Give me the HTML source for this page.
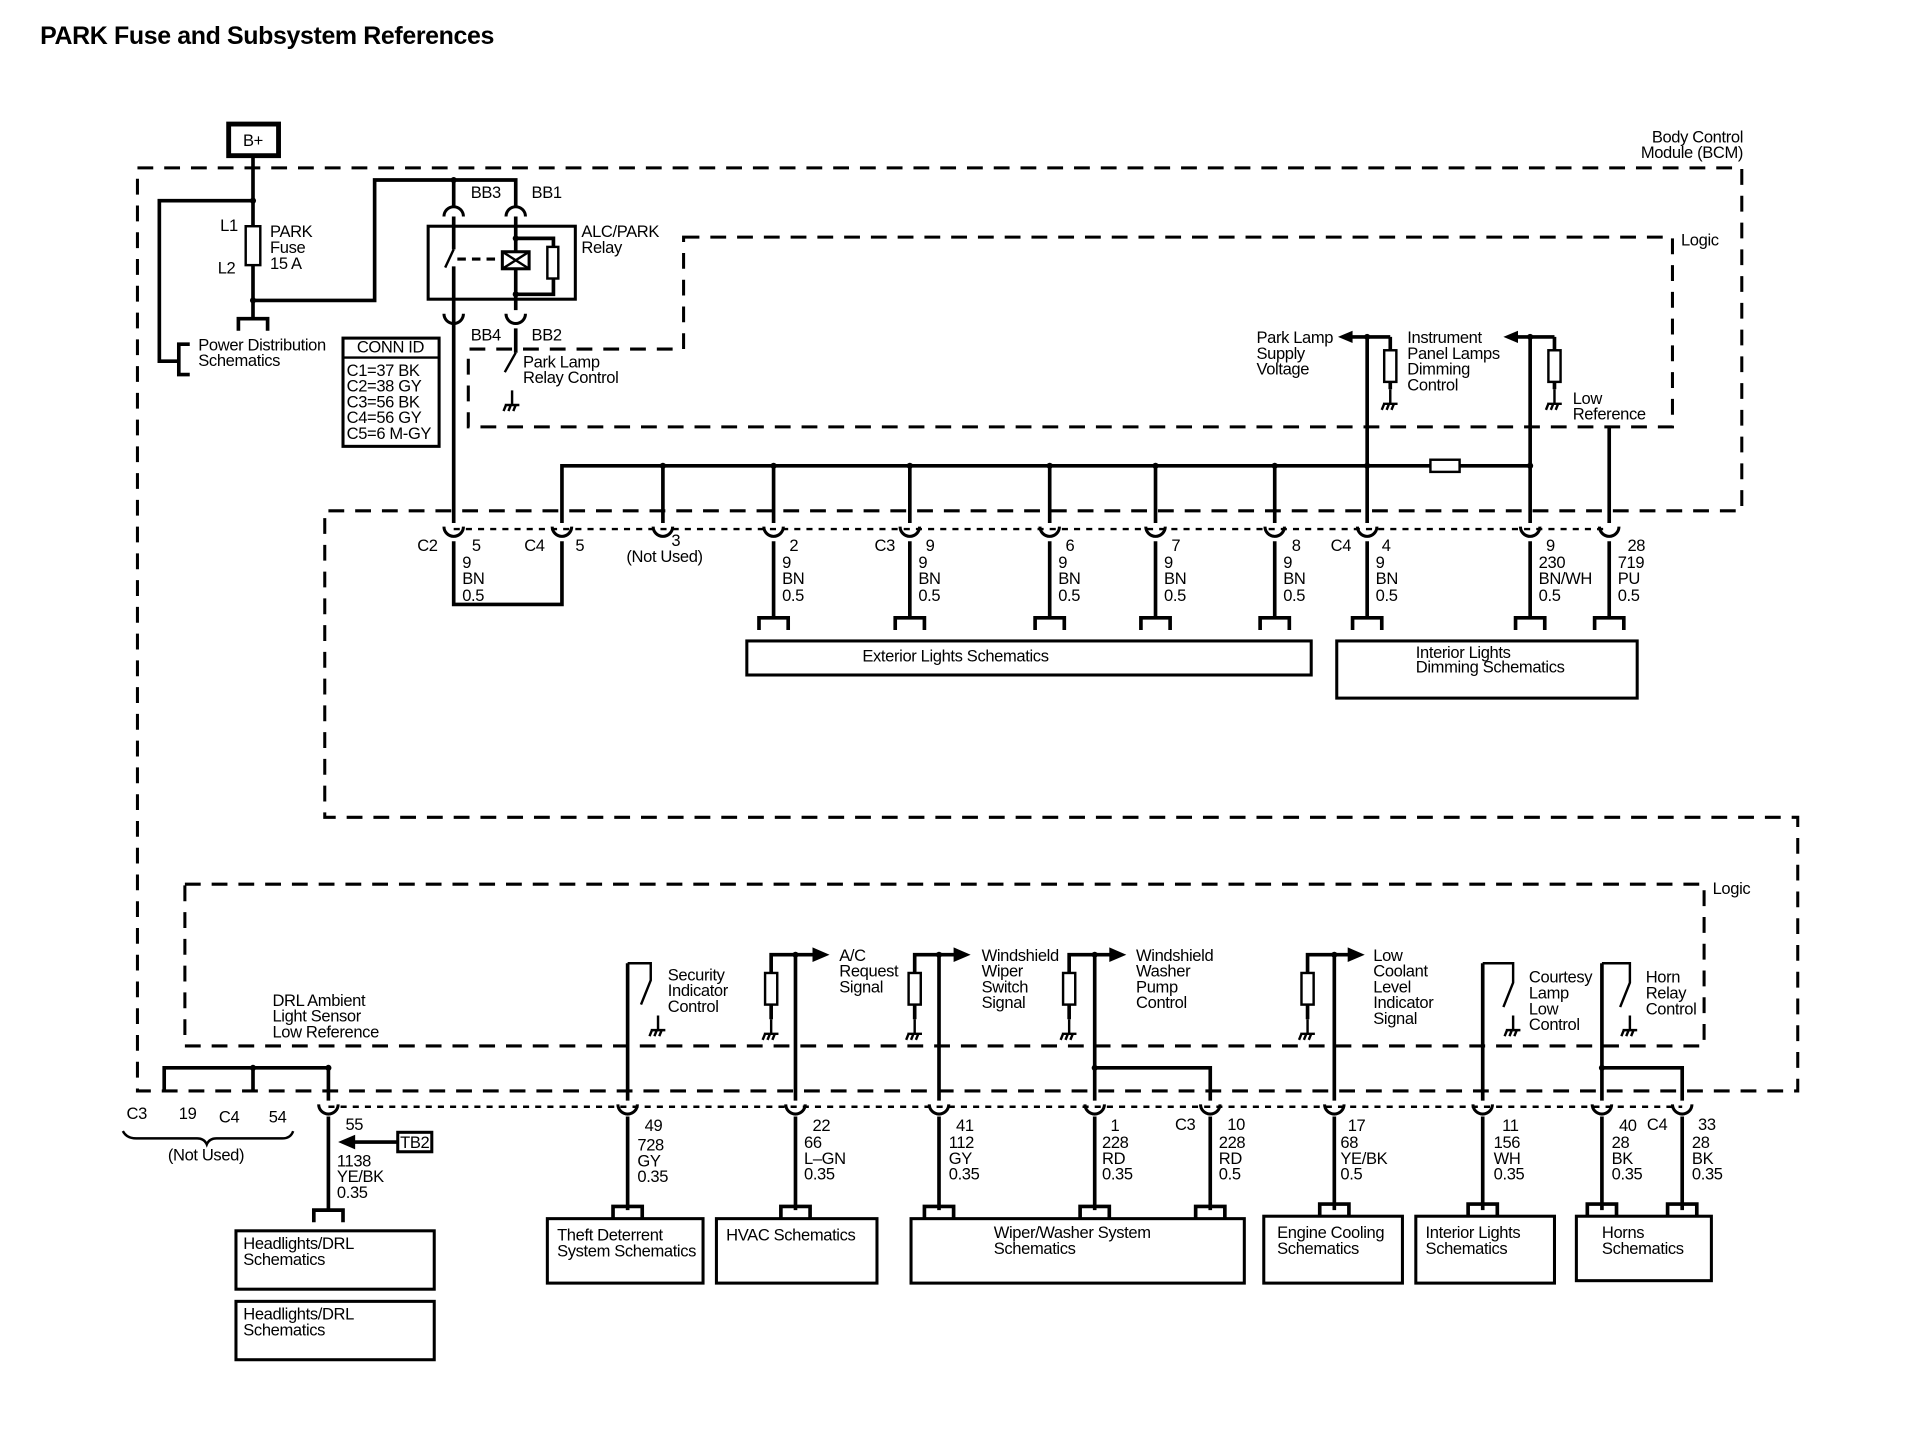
<!DOCTYPE html>
<html><head><meta charset="utf-8"><style>
html,body{margin:0;padding:0;background:#fff;}
svg{display:block;}
text{font-family:"Liberation Sans",sans-serif;font-size:13.6px;fill:#000;letter-spacing:-0.3px;}
</style></head><body>
<svg width="1906" height="1440" viewBox="0 0 1567 1184" preserveAspectRatio="none" xmlns="http://www.w3.org/2000/svg">
<defs>
<g id="cu"><path d="M-8,-4 A8,8 0 0 0 8,-4" fill="none" stroke="#000" stroke-width="2.5"/></g>
<g id="cd"><path d="M-8,4 A8,8 0 0 1 8,4" fill="none" stroke="#000" stroke-width="2.5"/></g>
<g id="pin"><path d="M-12,10 V0 H12 V10" fill="none" stroke="#000" stroke-width="3"/></g>
<g id="gnd"><path d="M0,0 V12 M-6,12 H6 M-5,12 L-7,17 M-1,12 L-3,17 M3,12 L1,17" fill="none" stroke="#000" stroke-width="2"/></g>
<g id="res"><rect x="-5" y="0" width="10" height="26" fill="#fff" stroke="#000" stroke-width="2"/></g>
</defs>
<text x="33" y="36" style="font-size:20.5px;font-weight:bold;letter-spacing:-0.3px">PARK Fuse and Subsystem References</text>

<g fill="none" stroke="#000" stroke-width="2.5" stroke-dasharray="13,9">
<path d="M113,138 H1432 V420 H267 V672 H1478 V897 H113 Z"/>
<path d="M562,195 H1375 V351 H385 V287 H562 Z"/>
<rect x="152" y="727" width="1249" height="133"/>
</g>
<g fill="none" stroke="#000" stroke-width="2" stroke-dasharray="5,5">
<path d="M373,435 H1323"/>
<path d="M270,910 H1383"/>
</g>
<text x="1433" y="117" text-anchor="end">Body Control</text>
<text x="1433" y="130" text-anchor="end">Module (BCM)</text>
<text x="1382" y="202">Logic</text>
<text x="1408" y="735">Logic</text>

<rect x="188" y="102" width="41" height="26" fill="#fff" stroke="#000" stroke-width="4"/>
<text x="208" y="120" text-anchor="middle">B+</text>

<g fill="none" stroke="#000" stroke-width="3">
<path d="M208,128 V262"/>
<path d="M208,165 H131 V297 H147"/>
<path d="M156,283 H147 V308 H156"/>
<path d="M208,247 H308 V148 H424 V170"/>
<path d="M373,148 V170"/>
<path d="M196,272 V262 H220 V272"/>
<path d="M373,178 V205 M373,219 V430 M373,445 V497 H462 V445 M462,430 V383 H1258"/>
<path d="M424,178 V255 M424,270 V290"/>
<path d="M424,196 H455 V242 H424"/>
</g>
<rect x="202" y="186" width="12" height="32" fill="#fff" stroke="#000" stroke-width="2"/>
<text x="181" y="190">L1</text><text x="179" y="225">L2</text>
<text x="222" y="195">PARK</text><text x="222" y="208">Fuse</text><text x="222" y="221">15 A</text>
<text x="163" y="288">Power Distribution</text><text x="163" y="301">Schematics</text>

<rect x="352" y="186" width="121" height="60" fill="none" stroke="#000" stroke-width="2.5"/>
<path d="M373,205 L366,220" stroke="#000" stroke-width="2"/>
<path d="M376,213 H410" stroke="#000" stroke-width="2.5" stroke-dasharray="7,5"/>
<rect x="413" y="207" width="22" height="14" fill="#fff" stroke="#000" stroke-width="2.5"/>
<path d="M413,207 L435,221 M435,207 L413,221" stroke="#000" stroke-width="2"/>
<rect x="450" y="203" width="9" height="26" fill="#fff" stroke="#000" stroke-width="2"/>
<circle cx="373" cy="148" r="2.5"/><circle cx="208" cy="165" r="2.5"/><circle cx="208" cy="247" r="2.5"/>
<circle cx="424" cy="196" r="2.5"/><circle cx="424" cy="242" r="2.5"/>
<use href="#cd" x="373" y="174"/><use href="#cd" x="424" y="174"/>
<use href="#cu" x="373" y="262"/><use href="#cu" x="424" y="262"/>
<text x="387" y="163">BB3</text><text x="437" y="163">BB1</text>
<text x="387" y="280">BB4</text><text x="437" y="280">BB2</text>
<text x="478" y="195">ALC/PARK</text><text x="478" y="208">Relay</text>
<path d="M424,290 L415,306" stroke="#000" stroke-width="2" fill="none"/>
<use href="#gnd" x="421" y="321"/>
<text x="430" y="302">Park Lamp</text><text x="430" y="315">Relay Control</text>

<rect x="282" y="278" width="79" height="89" fill="none" stroke="#000" stroke-width="2.5"/>
<line x1="282" y1="294" x2="361" y2="294" stroke="#000" stroke-width="2"/>
<text x="321" y="290" text-anchor="middle">CONN ID</text>
<text x="285" y="309">C1=37 BK</text><text x="285" y="322">C2=38 GY</text><text x="285" y="335">C3=56 BK</text><text x="285" y="348">C4=56 GY</text><text x="285" y="361">C5=6 M-GY</text>

<g fill="none" stroke="#000" stroke-width="3">
<path d="M545,383 V430 M636,383 V430 M748,383 V430 M863,383 V430 M950,383 V430 M1048,383 V430"/>
<path d="M636,445 V508 M748,445 V508 M863,445 V508 M950,445 V508 M1048,445 V508"/>
<path d="M1124,275 V430 M1124,445 V508 M1258,275 V430 M1258,445 V508 M1323,351 V430 M1323,445 V508"/>
<path d="M1124,277 H1110 M1258,277 H1245 M1124,277 H1143 M1258,277 H1278"/>
<path d="M1143,277 V288 M1143,312 V320 M1278,277 V288 M1278,312 V320"/>
</g>
<path d="M1100,277 L1112,272 L1112,282 Z"/><path d="M1236,277 L1248,272 L1248,282 Z"/>
<use href="#res" x="1143" y="288"/><use href="#res" x="1278" y="288"/>
<use href="#gnd" x="1143" y="320"/><use href="#gnd" x="1278" y="320"/>
<rect x="1176" y="378" width="24" height="10" fill="#fff" stroke="#000" stroke-width="2"/>
<g><circle cx="545" cy="383" r="2.5"/><circle cx="636" cy="383" r="2.5"/><circle cx="748" cy="383" r="2.5"/><circle cx="863" cy="383" r="2.5"/><circle cx="950" cy="383" r="2.5"/><circle cx="1048" cy="383" r="2.5"/><circle cx="1124" cy="383" r="2.5"/><circle cx="1258" cy="383" r="2.5"/><circle cx="1124" cy="277" r="2.5"/><circle cx="1258" cy="277" r="2.5"/></g>
<text x="1033" y="282">Park Lamp</text><text x="1033" y="295">Supply</text><text x="1033" y="308">Voltage</text>
<text x="1157" y="282">Instrument</text><text x="1157" y="295">Panel Lamps</text><text x="1157" y="308">Dimming</text><text x="1157" y="321">Control</text>
<text x="1293" y="332">Low</text><text x="1293" y="345">Reference</text>
<g><use href="#cu" x="373" y="437"/><use href="#cu" x="462" y="437"/><use href="#cu" x="545" y="437"/><use href="#cu" x="636" y="437"/><use href="#cu" x="748" y="437"/><use href="#cu" x="863" y="437"/><use href="#cu" x="950" y="437"/><use href="#cu" x="1048" y="437"/><use href="#cu" x="1124" y="437"/><use href="#cu" x="1258" y="437"/><use href="#cu" x="1323" y="437"/></g>
<text x="343" y="453">C2</text><text x="388" y="453">5</text><text x="380" y="467">9</text><text x="380" y="480">BN</text><text x="380" y="494">0.5</text>
<text x="431" y="453">C4</text><text x="473" y="453">5</text>
<text x="552" y="449">3</text><text x="515" y="462">(Not Used)</text>
<text x="649" y="453">2</text><text x="643" y="467">9</text><text x="643" y="480">BN</text><text x="643" y="494">0.5</text>
<text x="719" y="453">C3</text><text x="761" y="453">9</text><text x="755" y="467">9</text><text x="755" y="480">BN</text><text x="755" y="494">0.5</text>
<text x="876" y="453">6</text><text x="870" y="467">9</text><text x="870" y="480">BN</text><text x="870" y="494">0.5</text>
<text x="963" y="453">7</text><text x="957" y="467">9</text><text x="957" y="480">BN</text><text x="957" y="494">0.5</text>
<text x="1062" y="453">8</text><text x="1055" y="467">9</text><text x="1055" y="480">BN</text><text x="1055" y="494">0.5</text>
<text x="1094" y="453">C4</text><text x="1136" y="453">4</text><text x="1131" y="467">9</text><text x="1131" y="480">BN</text><text x="1131" y="494">0.5</text>
<text x="1271" y="453">9</text><text x="1265" y="467">230</text><text x="1265" y="480">BN/WH</text><text x="1265" y="494">0.5</text>
<text x="1338" y="453">28</text><text x="1330" y="467">719</text><text x="1330" y="480">PU</text><text x="1330" y="494">0.5</text>
<g><use href="#pin" x="636" y="508"/><use href="#pin" x="748" y="508"/><use href="#pin" x="863" y="508"/><use href="#pin" x="950" y="508"/><use href="#pin" x="1048" y="508"/><use href="#pin" x="1124" y="508"/><use href="#pin" x="1258" y="508"/><use href="#pin" x="1323" y="508"/></g>
<rect x="614" y="527" width="464" height="28" fill="none" stroke="#000" stroke-width="2.5"/>
<text x="709" y="544">Exterior Lights Schematics</text>
<rect x="1099" y="527" width="247" height="47" fill="none" stroke="#000" stroke-width="2.5"/>
<text x="1164" y="541">Interior Lights</text><text x="1164" y="553">Dimming Schematics</text>

<g fill="none" stroke="#000" stroke-width="3">
<path d="M135,897 V878 H270 V905 M208,878 V897 M270,918 V995"/>
<path d="M516,792 V905 M516,918 V995"/>
<path d="M634,800 V785 H654 M634,824 V838 M654,785 V905 M654,918 V995 M654,785 H670"/>
<path d="M752,800 V785 H772 M752,824 V838 M772,785 V905 M772,918 V995 M772,785 H786"/>
<path d="M879,800 V785 H900 M879,824 V838 M900,785 V905 M900,918 V995 M900,785 H914 M900,878 H995 V905 M995,918 V995"/>
<path d="M1075,800 V785 H1097 M1075,824 V838 M1097,785 V905 M1097,918 V995 M1097,785 H1110"/>
<path d="M1219,792 V905 M1219,918 V995"/>
<path d="M1317,792 V905 M1317,918 V995 M1317,878 H1383 V905 M1383,918 V995"/>
<path d="M285,939 H327"/>
</g>
<g fill="none" stroke="#000" stroke-width="2">
<path d="M516,792 H535 V806 L527,826"/><use href="#gnd" x="541" y="835"/>
<path d="M1219,792 H1244 V808 L1236,828"/><use href="#gnd" x="1244" y="835"/>
<path d="M1317,792 H1340 V808 L1332,828"/><use href="#gnd" x="1340" y="835"/>
<path d="M101,930 Q104,936 112,936 H162 Q168,936 170,941 Q172,936 178,936 H232 Q239,936 241,930"/>
</g>
<use href="#res" x="634" y="800"/><use href="#res" x="752" y="800"/><use href="#res" x="879" y="800"/><use href="#res" x="1075" y="800"/>
<use href="#gnd" x="634" y="838"/><use href="#gnd" x="752" y="838"/><use href="#gnd" x="879" y="838"/><use href="#gnd" x="1075" y="838"/>
<path d="M682,785 L668,779 L668,791 Z"/><path d="M798,785 L784,779 L784,791 Z"/><path d="M926,785 L912,779 L912,791 Z"/><path d="M1122,785 L1108,779 L1108,791 Z"/>
<path d="M278,939 L292,933 L292,945 Z"/>
<g><circle cx="208" cy="878" r="2.5"/><circle cx="270" cy="878" r="2.5"/><circle cx="654" cy="785" r="2.5"/><circle cx="772" cy="785" r="2.5"/><circle cx="900" cy="785" r="2.5"/><circle cx="1097" cy="785" r="2.5"/><circle cx="900" cy="878" r="2.5"/><circle cx="1317" cy="878" r="2.5"/></g>
<g><use href="#cu" x="270" y="912"/><use href="#cu" x="516" y="912"/><use href="#cu" x="654" y="912"/><use href="#cu" x="772" y="912"/><use href="#cu" x="900" y="912"/><use href="#cu" x="995" y="912"/><use href="#cu" x="1097" y="912"/><use href="#cu" x="1219" y="912"/><use href="#cu" x="1317" y="912"/><use href="#cu" x="1383" y="912"/></g>
<rect x="327" y="931" width="28" height="16" fill="#fff" stroke="#000" stroke-width="2.5"/>
<text x="341" y="944" text-anchor="middle">TB2</text>

<text x="224" y="827">DRL Ambient</text><text x="224" y="840">Light Sensor</text><text x="224" y="853">Low Reference</text>
<text x="549" y="806">Security</text><text x="549" y="819">Indicator</text><text x="549" y="832">Control</text>
<text x="690" y="790">A/C</text><text x="690" y="803">Request</text><text x="690" y="816">Signal</text>
<text x="807" y="790">Windshield</text><text x="807" y="803">Wiper</text><text x="807" y="816">Switch</text><text x="807" y="829">Signal</text>
<text x="934" y="790">Windshield</text><text x="934" y="803">Washer</text><text x="934" y="816">Pump</text><text x="934" y="829">Control</text>
<text x="1129" y="790">Low</text><text x="1129" y="803">Coolant</text><text x="1129" y="816">Level</text><text x="1129" y="829">Indicator</text><text x="1129" y="842">Signal</text>
<text x="1257" y="808">Courtesy</text><text x="1257" y="821">Lamp</text><text x="1257" y="834">Low</text><text x="1257" y="847">Control</text>
<text x="1353" y="808">Horn</text><text x="1353" y="821">Relay</text><text x="1353" y="834">Control</text>

<text x="104" y="920">C3</text><text x="147" y="920">19</text><text x="180" y="923">C4</text><text x="221" y="923">54</text>
<text x="138" y="954">(Not Used)</text>
<text x="284" y="929">55</text><text x="277" y="959">1138</text><text x="277" y="972">YE/BK</text><text x="277" y="985">0.35</text>
<text x="530" y="930">49</text><text x="524" y="946">728</text><text x="524" y="959">GY</text><text x="524" y="972">0.35</text>
<text x="668" y="930">22</text><text x="661" y="944">66</text><text x="661" y="957">L–GN</text><text x="661" y="970">0.35</text>
<text x="786" y="930">41</text><text x="780" y="944">112</text><text x="780" y="957">GY</text><text x="780" y="970">0.35</text>
<text x="913" y="930">1</text><text x="906" y="944">228</text><text x="906" y="957">RD</text><text x="906" y="970">0.35</text>
<text x="966" y="929">C3</text><text x="1009" y="929">10</text><text x="1002" y="944">228</text><text x="1002" y="957">RD</text><text x="1002" y="970">0.5</text>
<text x="1108" y="930">17</text><text x="1102" y="944">68</text><text x="1102" y="957">YE/BK</text><text x="1102" y="970">0.5</text>
<text x="1235" y="930">11</text><text x="1228" y="944">156</text><text x="1228" y="957">WH</text><text x="1228" y="970">0.35</text>
<text x="1331" y="930">40</text><text x="1325" y="944">28</text><text x="1325" y="957">BK</text><text x="1325" y="970">0.35</text>
<text x="1354" y="929">C4</text><text x="1396" y="929">33</text><text x="1391" y="944">28</text><text x="1391" y="957">BK</text><text x="1391" y="970">0.35</text>

<g><use href="#pin" x="270" y="995"/><use href="#pin" x="516" y="992"/><use href="#pin" x="654" y="992"/><use href="#pin" x="772" y="992"/><use href="#pin" x="900" y="992"/><use href="#pin" x="995" y="992"/><use href="#pin" x="1097" y="990"/><use href="#pin" x="1219" y="990"/><use href="#pin" x="1317" y="990"/><use href="#pin" x="1383" y="990"/></g>
<g fill="none" stroke="#000" stroke-width="2.5">
<rect x="194" y="1012" width="163" height="48"/><rect x="194" y="1070" width="163" height="48"/>
<rect x="450" y="1002" width="128" height="53"/><rect x="589" y="1002" width="132" height="53"/>
<rect x="749" y="1002" width="274" height="53"/><rect x="1039" y="1000" width="114" height="55"/>
<rect x="1164" y="1000" width="114" height="55"/><rect x="1296" y="1000" width="111" height="53"/>
</g>
<text x="200" y="1027">Headlights/DRL</text><text x="200" y="1040">Schematics</text>
<text x="200" y="1085">Headlights/DRL</text><text x="200" y="1098">Schematics</text>
<text x="458" y="1020">Theft Deterrent</text><text x="458" y="1033">System Schematics</text>
<text x="597" y="1020">HVAC Schematics</text>
<text x="817" y="1018">Wiper/Washer System</text><text x="817" y="1031">Schematics</text>
<text x="1050" y="1018">Engine Cooling</text><text x="1050" y="1031">Schematics</text>
<text x="1172" y="1018">Interior Lights</text><text x="1172" y="1031">Schematics</text>
<text x="1317" y="1018">Horns</text><text x="1317" y="1031">Schematics</text>
</svg>
</body></html>
